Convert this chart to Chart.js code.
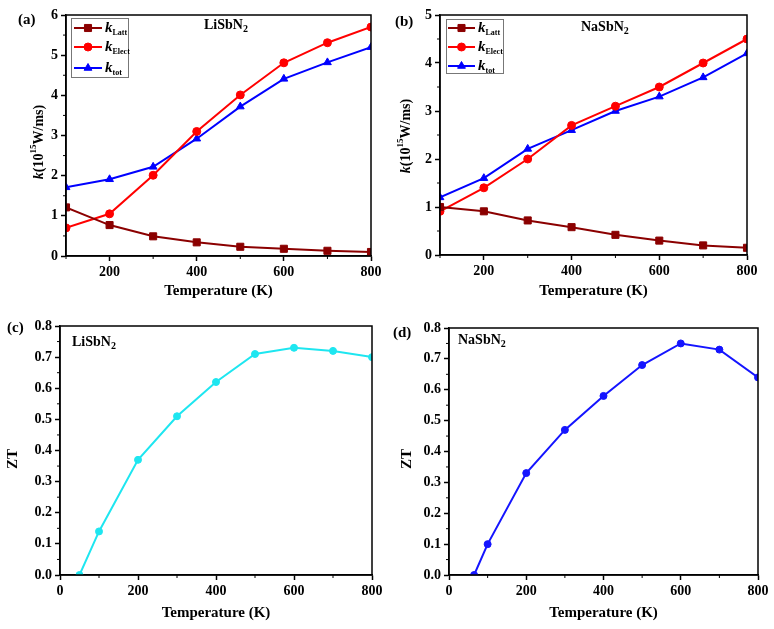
<!DOCTYPE html>
<html><head><meta charset="utf-8">
<script src="https://cdn.jsdelivr.net/npm/chart.js@4.4.1/dist/chart.umd.min.js"></script>
<style>
body{margin:0;background:#fff;width:774px;height:629px;position:relative;overflow:hidden}
canvas{position:absolute}
</style></head><body>
<canvas id="ca" width="387" height="300" style="left:0;top:0"></canvas>
<canvas id="cb" width="387" height="300" style="left:387px;top:0"></canvas>
<canvas id="cc" width="387" height="329" style="left:0;top:300px"></canvas>
<canvas id="cd" width="387" height="329" style="left:387px;top:300px"></canvas>
<script>
// temperatures (K)
const temps=[100,200,300,400,500,600,700,800];
// LiSbN2 thermal conductivity
const liLatt=[1.21,0.77,0.49,0.34,0.23,0.18,0.13,0.10];
const liElect=[0.70,1.05,2.01,3.10,4.01,4.81,5.31,5.70];
const liTot=[1.71,1.91,2.22,2.92,3.72,4.41,4.82,5.20];
// NaSbN2 thermal conductivity
const naLatt=[1.00,0.91,0.72,0.58,0.42,0.30,0.20,0.15];
const naElect=[0.91,1.40,2.00,2.70,3.10,3.50,4.00,4.50];
const naTot=[1.20,1.60,2.21,2.60,3.00,3.30,3.70,4.20];
// ZT
const ztTempsLi=[50,100,200,300,400,500,600,700,800];
const ztLi=[0,0.14,0.37,0.51,0.62,0.71,0.73,0.72,0.70];
const ztTempsNa=[65,100,200,300,400,500,600,700,800];
const ztNa=[0,0.10,0.33,0.47,0.58,0.68,0.75,0.73,0.64];
// tick labels
const kTicksX=[200,400,600,800];
const ztTicksX=[0,200,400,600,800];
const kMinorX=[100,300,500,700];
const ztMinorX=[100,300,500,700];
const liMinorY=[0.5,1.5,2.5,3.5,4.5,5.5];
const naMinorY=[0.5,1.5,2.5,3.5,4.5];
const ztMinorY=[0.05,0.15,0.25,0.35,0.45,0.55,0.65,0.75];

const serif='"Liberation Serif","Times New Roman",serif';
Chart.defaults.font.family=serif;
Chart.defaults.font.weight='bold';
Chart.defaults.font.size=14;
Chart.defaults.color='#000';
Chart.defaults.animation=false;

const B=s=>'bold '+s+'px '+serif, BI=s=>'italic bold '+s+'px '+serif;
function richWidth(ctx,parts){let w=0;parts.forEach(p=>{ctx.font=p.f;w+=ctx.measureText(p.t).width;});return w;}
function drawRich(ctx,parts,x,y,align){
let cx=align==='center'?x-richWidth(ctx,parts)/2:x;
ctx.textBaseline='middle';ctx.textAlign='left';
parts.forEach(p=>{ctx.font=p.f;ctx.fillText(p.t,cx,y+(p.dy||0));cx+=ctx.measureText(p.t).width;});
}
const formula=m=>[{t:m+'SbN',f:B(14)},{t:'2',f:B(10),dy:4}];
const kTitle=[{t:'k',f:BI(14)},{t:'(10',f:B(14)},{t:'15',f:B(9),dy:-5},{t:'W/ms)',f:B(14)}];
const ztTitle=[{t:'ZT',f:B(15)}];

// frame, minor ticks, labels, legend
const decor={id:'decor',afterDraw(chart,args,o){
const ctx=chart.ctx,a=chart.chartArea,xs=chart.scales.x,ys=chart.scales.y;
ctx.save();
ctx.strokeStyle='#000';ctx.lineWidth=1.5;
ctx.strokeRect(a.left,a.top,a.right-a.left,a.bottom-a.top);
ctx.beginPath();
o.minorX.forEach(v=>{const p=xs.getPixelForValue(v);ctx.moveTo(p,a.bottom);ctx.lineTo(p,a.bottom+3);});
o.minorY.forEach(v=>{const p=ys.getPixelForValue(v);ctx.moveTo(a.left,p);ctx.lineTo(a.left-3,p);});
ctx.lineWidth=1;ctx.stroke();
ctx.fillStyle='#000';
drawRich(ctx,[{t:o.tag,f:B(15)}],o.tagX,o.tagY,'left');
drawRich(ctx,formula(o.metal),o.fx,o.fy,'left');
if(o.yTitle){ctx.save();ctx.translate(o.yTitle[0],o.yTitle[1]);ctx.rotate(-Math.PI/2);drawRich(ctx,o.yTitle[2],0,0,'center');ctx.restore();}
if(o.legend){
const L=o.legend;
ctx.strokeStyle='#777';ctx.lineWidth=1;ctx.strokeRect(L.x+.5,L.y+.5,L.w,L.h);
chart.data.datasets.forEach((d,i)=>{
const y=L.rows[i];
ctx.strokeStyle=d.borderColor;ctx.fillStyle=d.borderColor;ctx.lineWidth=2;
ctx.beginPath();ctx.moveTo(L.x0,y);ctx.lineTo(L.x1,y);ctx.stroke();
ctx.lineWidth=1;
Chart.helpers.drawPoint(ctx,{pointStyle:d.pointStyle,radius:d.pointRadius,borderWidth:1,rotation:0},(L.x0+L.x1)/2,y);
ctx.fillStyle='#000';
drawRich(ctx,[{t:'k',f:BI(15)},{t:d.sub,f:B(8),dy:5}],L.x1+3,y,'left');
});
}
ctx.restore();
}};

function ds(label,sub,xs,ys,color,style,r){
return {label,sub,data:xs.map((x,i)=>({x,y:ys[i]})),borderColor:color,backgroundColor:color,
pointStyle:style,pointRadius:r,pointHoverRadius:r,borderWidth:2,pointBorderWidth:1,tension:0,clip:0};
}
const tickGrid={drawOnChartArea:false,tickLength:5,tickColor:'#000',tickWidth:1.5};
const axBorder={color:'#000',width:1.5};

function makeChart(id,datasets,p){
return new Chart(document.getElementById(id),{
type:'line',
data:{datasets},
options:{responsive:false,
layout:{padding:{left:0,right:p.right,top:p.top,bottom:0}},
plugins:{legend:{display:false},tooltip:{enabled:false},decor:p.decor},
scales:{
x:{type:'linear',min:p.xmin,max:800,
afterBuildTicks:s=>{s.ticks=p.xt.map(v=>({value:v}));},
grid:tickGrid,border:axBorder,
ticks:{font:{size:14},padding:3,maxRotation:0,callback:v=>String(v)},
title:{display:true,text:'Temperature (K)',font:{size:15},padding:{top:0,bottom:p.xPad}},
afterFit:s=>{s.height=p.xH;}},
y:{min:0,max:p.ymax,grid:tickGrid,border:axBorder,
ticks:{stepSize:p.ystep,font:{size:14},padding:3,callback:p.yfmt},
afterFit:s=>{s.width=p.yW;}}
}},
plugins:[decor]
});
}

makeChart('ca',[
ds('kLatt','Latt',temps,liLatt,'#8b0000','rect',5),
ds('kElect','Elect',temps,liElect,'#ff0000','circle',4),
ds('ktot','tot',temps,liTot,'#0000ff','triangle',4.5)
],{right:16,top:15,xH:44,yW:66,xmin:100,xt:kTicksX,ymax:6,ystep:1,yfmt:v=>String(v),xPad:0,
decor:{minorX:kMinorX,minorY:liMinorY,tag:'(a)',tagX:18,tagY:20,metal:'Li',fx:204,fy:25,yTitle:[39,142,kTitle],
legend:{x:71,y:18,w:57,h:59,rows:[28,47,68],x0:74,x1:102}}});

makeChart('cb',[
ds('kLatt','Latt',temps,naLatt,'#8b0000','rect',5),
ds('kElect','Elect',temps,naElect,'#ff0000','circle',4),
ds('ktot','tot',temps,naTot,'#0000ff','triangle',4.5)
],{right:27,top:15,xH:45,yW:53,xmin:100,xt:kTicksX,ymax:5,ystep:1,yfmt:v=>String(v),xPad:0,
decor:{minorX:kMinorX,minorY:naMinorY,tag:'(b)',tagX:8,tagY:22,metal:'Na',fx:194,fy:27,yTitle:[19,136,kTitle],
legend:{x:59,y:19,w:57,h:54,rows:[28,47,66],x0:61,x1:88}}});

makeChart('cc',[
ds('ZT','',ztTempsLi,ztLi,'#1ee6f0','circle',3.5)
],{right:15,top:26,xH:54,yW:60,xmin:0,xt:ztTicksX,ymax:0.8,ystep:0.1,yfmt:v=>v.toFixed(1),xPad:7,
decor:{minorX:ztMinorX,minorY:ztMinorY,tag:'(c)',tagX:7,tagY:28,metal:'Li',fx:72,fy:42,yTitle:[13,159,ztTitle]}});

makeChart('cd',[
ds('ZT','',ztTempsNa,ztNa,'#1414ff','circle',3.5)
],{right:16,top:28,xH:54,yW:62,xmin:0,xt:ztTicksX,ymax:0.8,ystep:0.1,yfmt:v=>v.toFixed(1),xPad:7,
decor:{minorX:ztMinorX,minorY:ztMinorY,tag:'(d)',tagX:6,tagY:33,metal:'Na',fx:71,fy:40,yTitle:[20,159,ztTitle]}});
</script>
</body></html>
